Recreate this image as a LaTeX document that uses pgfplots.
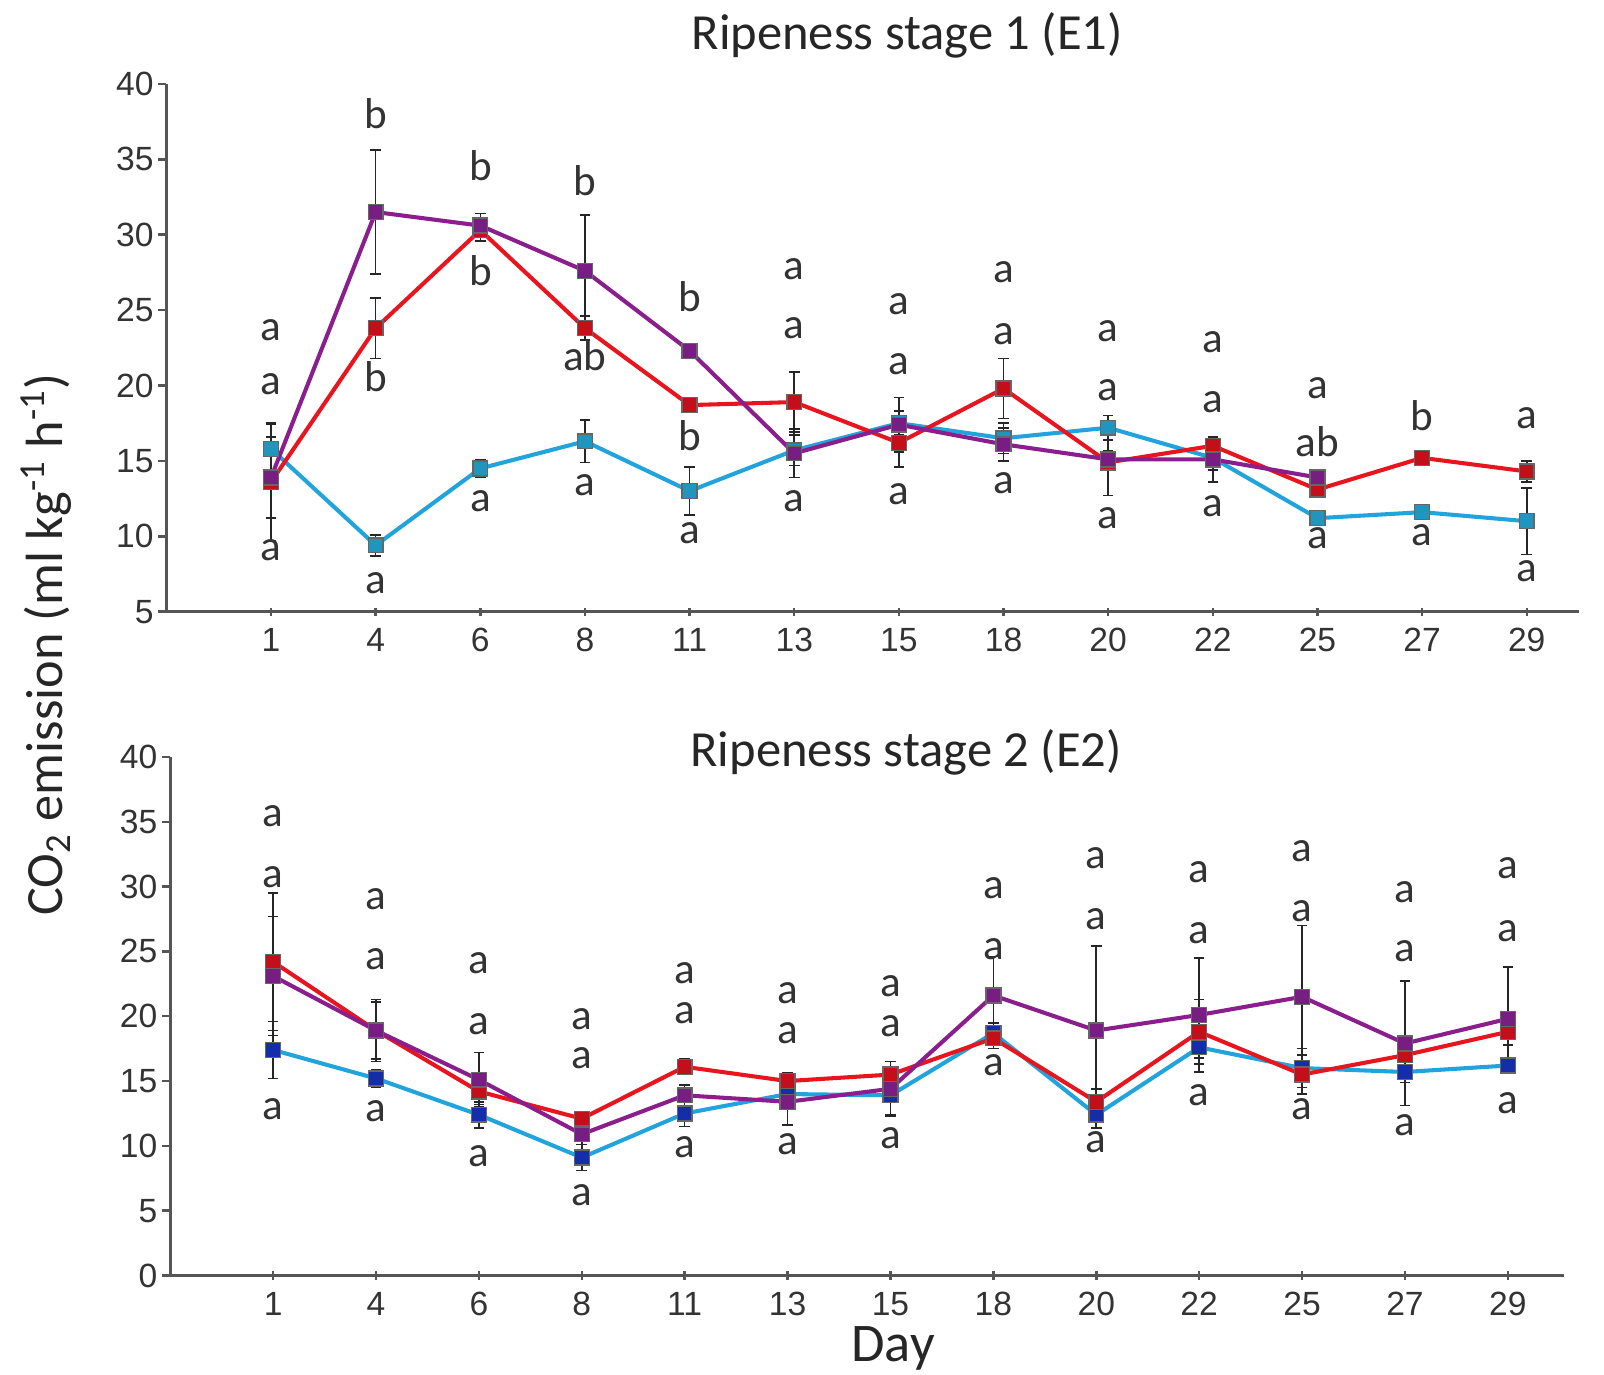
\documentclass[border=0pt]{standalone}
\usepackage{pgfplots}
\pgfplotsset{compat=1.18}
\usepackage{pgfplotstable}
\usepackage{fontspec}
\setmainfont{Carlito}
\newfontfamily\arialf{Liberation Sans}

\definecolor{cblue}{RGB}{33,163,220}
\definecolor{cbluem1}{RGB}{32,150,190}
\definecolor{cbluem2}{RGB}{20,45,170}
\definecolor{cred}{RGB}{232,20,30}
\definecolor{credm}{RGB}{195,15,25}
\definecolor{cpurp}{RGB}{138,30,140}
\definecolor{cpurpm}{RGB}{120,30,130}
\definecolor{caxis}{RGB}{85,85,85}

% E1 data: x index, blue, err, red, err, purple, err
\pgfplotstableread{
x blue eb red er purp ep
0 15.8 1.6 13.6 3.9 13.9 2.7
1 9.4 0.7 23.8 2.0 31.5 4.1
2 14.5 0.6 30.3 0.7 30.6 0.8
3 16.3 1.4 23.8 0.8 27.6 3.7
4 13.0 1.6 18.7 0.5 22.3 0.3
5 15.7 1.0 18.9 2.0 15.5 1.6
6 17.5 0.8 16.2 1.6 17.4 1.8
7 16.5 1.0 19.8 2.0 16.1 1.1
8 17.2 0.8 14.9 2.2 15.1 0.6
9 15.2 0.8 16.0 0.5 15.1 1.5
10 11.2 0.4 13.1 0.5 13.9 0.4
11 11.6 0.4 15.2 0.3 nan nan
12 11.0 2.2 14.3 0.7 nan nan
}\Eone

\pgfplotstableread{
x blue eb red er purp ep
0 17.4 2.2 24.2 5.3 23.1 4.6
1 15.2 0.7 18.9 2.4 18.9 2.2
2 12.4 1.0 14.2 1.0 15.1 2.1
3 9.1 1.0 12.1 0.5 10.9 0.8
4 12.5 1.0 16.1 0.6 13.9 0.8
5 14.0 0.6 15.0 0.6 13.4 1.8
6 13.9 1.5 15.5 1.0 14.4 2.1
7 18.7 0.8 18.3 0.8 21.6 3.0
8 12.4 1.0 13.4 1.0 18.9 6.5
9 17.6 0.8 18.8 2.5 20.1 4.4
10 16.0 1.5 15.5 1.5 21.5 5.5
11 15.7 0.8 17.0 1.5 17.9 4.8
12 16.2 0.5 18.8 1.0 19.8 4.0
}\Etwo

\pgfplotstableread{
x y t
0 23.7 a
0 20.1 a
0 9.1 a
1 38.0 b
1 20.6 b
1 6.9 a
2 34.6 b
2 27.6 b
2 12.3 a
3 33.6 b
3 22.0 ab
3 13.4 a
4 25.9 b
4 16.7 b
4 10.2 a
5 27.7 a
5 23.8 a
5 12.3 a
6 25.4 a
6 21.4 a
6 12.8 a
7 27.5 a
7 23.4 a
7 13.5 a
8 23.6 a
8 19.7 a
8 11.2 a
9 22.9 a
9 18.9 a
9 12.0 a
10 19.8 a
10 16.3 ab
10 9.9 a
11 18.0 b
11 10.1 a
12 17.8 a
12 7.7 a
}\Lone

\pgfplotstableread{
x y t
0 35.4 a
0 30.7 a
0 12.8 a
1 29.0 a
1 24.4 a
1 12.7 a
2 24.1 a
2 19.4 a
2 9.2 a
3 19.8 a
3 16.8 a
3 6.2 a
4 23.3 a
4 20.2 a
4 9.9 a
5 21.8 a
5 18.7 a
5 10.1 a
6 22.3 a
6 19.2 a
6 10.6 a
7 29.9 a
7 25.2 a
7 16.2 a
8 32.2 a
8 27.5 a
8 10.3 a
9 31.1 a
9 26.4 a
9 13.9 a
10 32.7 a
10 28.1 a
10 12.8 a
11 29.6 a
11 25.0 a
11 11.6 a
12 31.4 a
12 26.6 a
12 13.3 a
}\Ltwo

\pgfplotsset{
 myaxis/.style={scale only axis, axis lines=left,
   axis line style={-, draw=caxis, line width=0.8pt},
   tick style={draw=caxis, line width=0.7pt},
   major tick length=2.3pt, ytick align=outside, xtick align=center,
   xtick={0,...,12}, xticklabels={1,4,6,8,11,13,15,18,20,22,25,27,29},
   ticklabel style={font=\arialf\fontsize{9.5}{11}\selectfont, text=black!80},
   yticklabel style={xshift=2.2pt},
   /pgf/number format/assume math mode=true, clip=false},
 ser/.style={line width=1.15pt, mark=square*, mark size=2.1pt,
   error bars/y dir=both, error bars/y explicit,
   error bars/error bar style={black!85, line width=0.45pt},
   error bars/error mark options={rotate=90, black!85, line width=0.45pt, mark size=1.5pt}},
 lets/.style={only marks, mark=none, nodes near coords, point meta=explicit symbolic,
   nodes near coords style={anchor=center, font=\fontsize{12.2}{13}\selectfont, text=black!80, inner sep=0pt}},
}

\begin{document}
\begin{tikzpicture}
\path[use as bounding box] (0,0) rectangle (453.5pt,-388.7pt);

\begin{axis}[myaxis, at={(47.05pt,-172.94pt)}, anchor=south west,
  width=399.4pt, height=149.23pt, xmin=-1, xmax=12.5, ymin=5, ymax=40,
  ytick={5,10,...,40}]
\addplot[ser, draw=cblue, mark options={fill=cbluem1, draw=black!60, line width=0.4pt}]
  table[x=x, y=blue, y error=eb]{\Eone};
\addplot[ser, draw=cred, mark options={fill=credm, draw=black!60, line width=0.4pt}]
  table[x=x, y=red, y error=er]{\Eone};
\addplot[ser, draw=cpurp, mark options={fill=cpurpm, draw=black!60, line width=0.4pt}]
  table[x=x, y=purp, y error=ep]{\Eone};
\addplot[lets] table[x=x, y=y, meta=t]{\Lone};
\end{axis}

\begin{axis}[myaxis, at={(48.12pt,-360.63pt)}, anchor=south west,
  width=394.2pt, height=146.62pt, xmin=-1, xmax=12.55, ymin=0, ymax=40,
  ytick={0,5,...,40}]
\addplot[ser, draw=cblue, mark options={fill=cbluem2, draw=black!60, line width=0.4pt}]
  table[x=x, y=blue, y error=eb]{\Etwo};
\addplot[ser, draw=cred, mark options={fill=credm, draw=black!60, line width=0.4pt}]
  table[x=x, y=red, y error=er]{\Etwo};
\addplot[ser, draw=cpurp, mark options={fill=cpurpm, draw=black!60, line width=0.4pt}]
  table[x=x, y=purp, y error=ep]{\Etwo};
\addplot[lets] table[x=x, y=y, meta=t]{\Ltwo};
\end{axis}

\node[font=\fontsize{14.3}{16}\selectfont, text=black!85] at (256.5pt,-10.1pt) {Ripeness stage 1 (E1)};
\node[font=\fontsize{14.3}{16}\selectfont, text=black!85] at (256.2pt,-212.6pt) {Ripeness stage 2 (E2)};
\node[rotate=90, font=\fontsize{14.8}{17}\selectfont, text=black!85] at (13.0pt,-182.2pt) {CO\textsubscript{2} emission (ml kg\textsuperscript{-1} h\textsuperscript{-1})};
\node[font=\fontsize{15.4}{17}\selectfont, text=black!85] at (252.5pt,-381.2pt) {Day};
\end{tikzpicture}
\end{document}
